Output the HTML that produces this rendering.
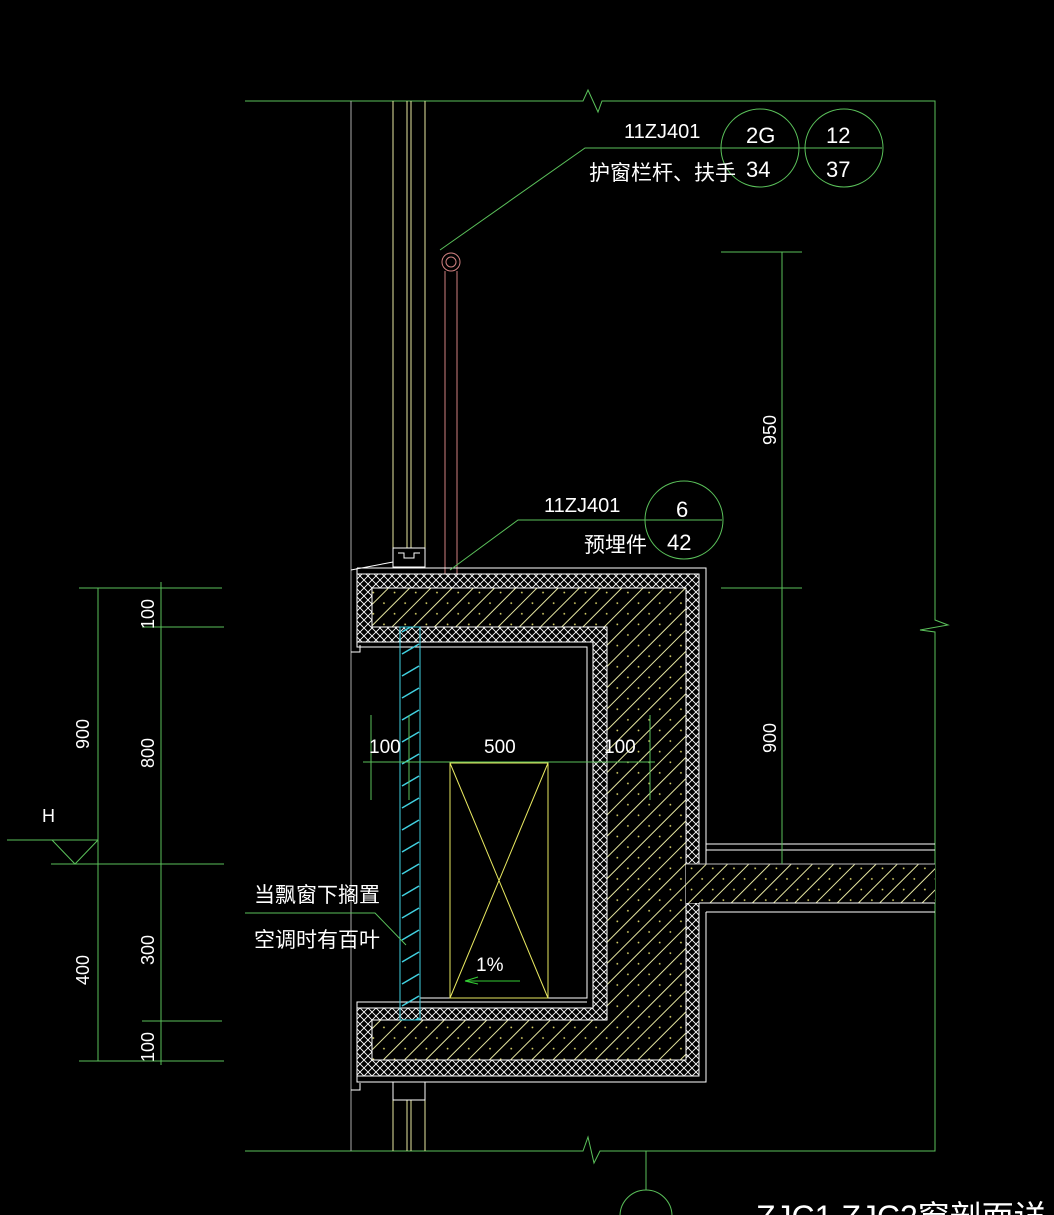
<!DOCTYPE html>
<html><head><meta charset="utf-8"><style>
html,body{margin:0;padding:0;background:#000;width:1054px;height:1215px;overflow:hidden}
svg{display:block}
text{font-family:"Liberation Sans","Noto Sans CJK SC",sans-serif;fill:#fff}
</style></head><body>
<svg width="1054" height="1215" viewBox="0 0 1054 1215" xmlns="http://www.w3.org/2000/svg">
<defs>
<pattern id="hatch" width="15" height="15" patternUnits="userSpaceOnUse" patternTransform="rotate(45)">
<rect width="15" height="15" fill="#000"/><line x1="0.5" y1="0" x2="0.5" y2="15" stroke="#e6e6a0" stroke-width="1"/>
<circle cx="8" cy="5" r="0.9" fill="#e8e070"/></pattern>
<pattern id="xx" width="8" height="8" patternUnits="userSpaceOnUse">
<rect width="8" height="8" fill="#000"/><path d="M0 0L8 8M8 0L0 8" stroke="#fff" stroke-width="0.9"/></pattern>
<pattern id="lv" width="20" height="22" patternUnits="userSpaceOnUse">
<line x1="2" y1="16" x2="19" y2="6" stroke="#40d0e0" stroke-width="1.5"/></pattern>
</defs>
<g fill="none" stroke-width="1">
<path d="M245 101H583L588 90L598 112L602 101H935V620L948 625L920 630L935 632V1151H600L594 1163L588 1137L583 1151H245" stroke="#5ac05a"/>
<path d="M646 1151V1190" stroke="#5ac05a"/>
<circle cx="646" cy="1216" r="26" stroke="#5ac05a"/>
<line x1="351" y1="101" x2="351" y2="1151" stroke="#aaa"/>
<path d="M393 101V548M425 101V548M407 101V548M411 101V548M393 1082V1151M425 1082V1151M407 1100V1151M411 1100V1151" stroke="#e8e8a0"/>
<path d="M393 548H425V567H393ZM398 553H404V558H414V553H420" stroke="#fff"/>
<path d="M393 1082H425V1100H393Z" stroke="#fff"/>
<path d="M351 570L393 562M351 652H360V645M351 1090H360V1083" stroke="#fff"/>
<circle cx="451" cy="262" r="9" stroke="#d08080"/><circle cx="451" cy="262" r="5" stroke="#d08080"/>
<path d="M445 271V594M457 271V594M445 594H458V617H445ZM449 598H455V612H449Z" stroke="#d08080"/>
</g>
<path d="M357 574H699V864H686V588H372V627H607V1020H372V1060H686V903H699V1076H357V1008H593V642H357Z" fill="url(#xx)" stroke="#fff"/>
<path d="M372 588H686V1060H372V1020H607V627H372Z" fill="url(#hatch)" stroke="#fff"/>
<path d="M686 864H935V903H686Z" fill="url(#hatch)"/>
<g fill="none" stroke="#fff">
<path d="M357 568H706V864M706 912V1082H357V1002H587M357 568V647H587V998H420" />
<line x1="686" y1="864" x2="935" y2="864" stroke="#bbb"/>
<path d="M706 844H935M706 850H935M699 903H935M706 912H935"/>
</g>
<rect x="400" y="627" width="20" height="393" fill="url(#lv)" stroke="#40d0e0"/>
<g stroke="#e8e860" fill="none"><rect x="450" y="763" width="98" height="235"/><path d="M450 763L548 998M548 763L450 998"/></g>
<path d="M465 981H520M465 981L478 977M465 981L478 984" stroke="#3c3" fill="none"/>
<text x="476" y="971" font-size="19">1%</text>
<g stroke="#5ac05a" fill="none">
<path d="M363 762H655M371 715V800M409 715V800M650 715V800"/>
</g>
<text x="369" y="753" font-size="19">100</text><text x="484" y="753" font-size="19">500</text><text x="604" y="753" font-size="19">100</text>
<g stroke="#5ac05a" fill="none"><path d="M721 252H802M721 588H802M782 252V864"/></g>
<text transform="translate(776,430) rotate(-90)" font-size="18" text-anchor="middle">950</text>
<text transform="translate(776,738) rotate(-90)" font-size="18" text-anchor="middle">900</text>
<g stroke="#5ac05a" fill="none">
<path d="M98 588V1061M161 582V1065M79 588H222M142 627H224M51 864H224M142 1021H222M79 1061H224M7 840H98M52 840L75 864L98 840"/>
</g>
<text x="42" y="822" font-size="18">H</text>
<text transform="translate(154,614) rotate(-90)" font-size="18" text-anchor="middle">100</text>
<text transform="translate(89,734) rotate(-90)" font-size="18" text-anchor="middle">900</text>
<text transform="translate(154,753) rotate(-90)" font-size="18" text-anchor="middle">800</text>
<text transform="translate(89,970) rotate(-90)" font-size="18" text-anchor="middle">400</text>
<text transform="translate(154,950) rotate(-90)" font-size="18" text-anchor="middle">300</text>
<text transform="translate(154,1047) rotate(-90)" font-size="18" text-anchor="middle">100</text>
<g stroke="#5ac05a" fill="none">
<path d="M440 250L585 148H882"/>
<circle cx="760" cy="148" r="39"/><circle cx="844" cy="148" r="39"/>
<path d="M450 570L518 520H722"/>
<circle cx="684" cy="520" r="39"/>
<path d="M245 913H375L406 945"/>
</g>
<text x="624" y="138" font-size="20">11ZJ401</text>
<text x="589" y="180" font-size="21">护窗栏杆、扶手</text>
<text x="746" y="143" font-size="22">2G</text><text x="746" y="177" font-size="22">34</text>
<text x="826" y="143" font-size="22">12</text><text x="826" y="177" font-size="22">37</text>
<text x="544" y="512" font-size="20">11ZJ401</text>
<text x="584" y="552" font-size="21">预埋件</text>
<text x="676" y="517" font-size="22">6</text><text x="667" y="550" font-size="22">42</text>
<text x="254" y="902" font-size="21">当飘窗下搁置</text>
<text x="254" y="947" font-size="21">空调时有百叶</text>
<text x="756" y="1228" font-size="32">ZJC1 ZJC2窗剖面详</text>
</svg>
</body></html>
